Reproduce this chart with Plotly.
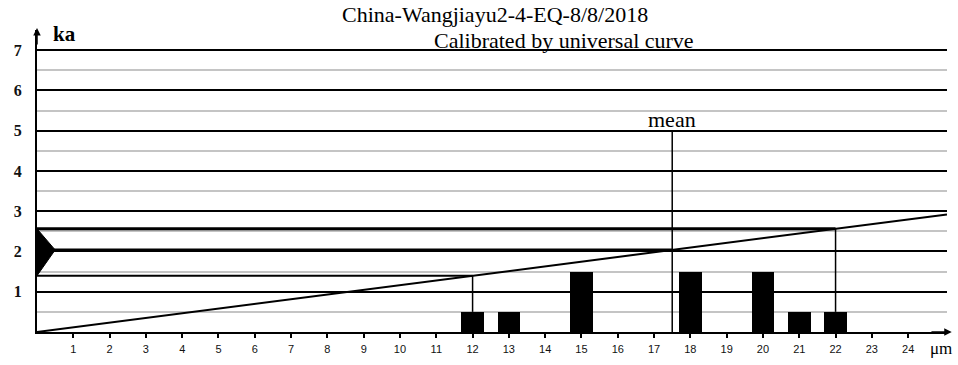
import numpy as np
import plotly.graph_objects as go

# Grain-size histogram (µm) and bar heights on the ka axis
grain_size = [12, 13, 15, 18, 20, 21, 22]
bar_height = [0.5, 0.5, 1.5, 1.5, 1.5, 0.5, 0.5]

# Universal calibration curve (grain size µm -> age ka)
calib_size = [0.0, 25.07]
calib_age = [0.0, 2.92]

# Grain sizes used for the age bounds and the mean
lower_size = 12
upper_size = 22
mean_size = 17.5
mean_marker_top = 5

x_ticks = list(range(1, 25))
y_ticks = list(range(1, 8))
y_minor = [0.5, 1.5, 2.5, 3.5, 4.5, 5.5, 6.5, 7.5]

title_line1 = "China-Wangjiayu2-4-EQ-8/8/2018"
title_line2 = "Calibrated by universal curve"

lower_age = float(np.interp(lower_size, calib_size, calib_age))
upper_age = float(np.interp(upper_size, calib_size, calib_age))
mean_age = float(np.interp(mean_size, calib_size, calib_age))

serif = "Liberation Serif, Times New Roman, serif"
sans = "Liberation Sans, Arial, sans-serif"

fig = go.Figure()

# histogram bars
fig.add_trace(go.Bar(x=grain_size, y=bar_height, width=0.62,
                     marker=dict(color="black", line=dict(width=0)),
                     hoverinfo="skip"))

# calibration line
fig.add_trace(go.Scatter(x=calib_size, y=calib_age, mode="lines",
                         line=dict(color="black", width=2), hoverinfo="skip"))

# age bounds drawn back to the axis
for sz, age, w in [(lower_size, lower_age, 2), (upper_size, upper_age, 3)]:
    fig.add_trace(go.Scatter(x=[0, sz], y=[age, age], mode="lines",
                             line=dict(color="black", width=w), hoverinfo="skip"))
fig.add_trace(go.Scatter(x=[0, mean_size], y=[mean_age, mean_age], mode="lines",
                         line=dict(color="black", width=3), hoverinfo="skip"))

# verticals from the bars up to the curve
for sz in [lower_size, upper_size]:
    h = bar_height[grain_size.index(sz)]
    age = float(np.interp(sz, calib_size, calib_age))
    fig.add_trace(go.Scatter(x=[sz, sz], y=[h, age], mode="lines",
                             line=dict(color="black", width=1.5), hoverinfo="skip"))

# mean marker
fig.add_trace(go.Scatter(x=[mean_size, mean_size], y=[0, mean_marker_top], mode="lines",
                         line=dict(color="black", width=1.5), hoverinfo="skip"))

# age-range triangle on the ka axis
fig.add_trace(go.Scatter(x=[0, 0.5, 0, 0], y=[upper_age, mean_age, lower_age, upper_age],
                         mode="lines", fill="toself", fillcolor="black",
                         line=dict(color="black", width=1), hoverinfo="skip"))

annotations = [
    dict(x=0.5033, y=1.05, xref="paper", yref="paper", text=title_line1, showarrow=False,
         xanchor="center", yanchor="middle",
         font=dict(family=serif, size=22, color="black")),
    dict(x=0.5791, y=0.964, xref="paper", yref="paper", text=title_line2, showarrow=False,
         xanchor="center", yanchor="middle",
         font=dict(family=serif, size=22, color="black")),
    dict(x=mean_size, y=5.27, xref="x", yref="y", text="mean", showarrow=False,
         xanchor="center", yanchor="middle",
         font=dict(family=serif, size=22, color="black")),
    dict(x=0.75, y=7.4, xref="x", yref="y", text="<b>ka</b>", showarrow=False,
         xanchor="center", yanchor="middle",
         font=dict(family=serif, size=21, color="black")),
    dict(x=0.979, y=-0.055, xref="paper", yref="paper", text="μm", showarrow=False,
         xanchor="left", yanchor="middle",
         font=dict(family=serif, size=17, color="black")),
    # axis arrowheads
    dict(x=25.2, y=0, ax=24.6, ay=0, xref="x", yref="y", axref="x", ayref="y",
         text="", showarrow=True, arrowhead=2, arrowsize=1, arrowwidth=1.5,
         arrowcolor="black"),
    dict(x=0, y=7.55, ax=0, ay=7.1, xref="x", yref="y", axref="x", ayref="y",
         text="", showarrow=True, arrowhead=2, arrowsize=1, arrowwidth=1.5,
         arrowcolor="black"),
]

fig.update_layout(
    width=958, height=365, autosize=False,
    margin=dict(l=37, r=11, t=30, b=33, pad=0),
    paper_bgcolor="white", plot_bgcolor="white",
    showlegend=False, bargap=0,
    annotations=annotations,
    xaxis=dict(range=[0, 25.07], tickmode="array", tickvals=x_ticks,
               showgrid=False, zeroline=False,
               showline=True, linecolor="black", linewidth=2,
               ticks="outside", ticklen=4, tickwidth=1.5, tickcolor="black",
               ticklabelstandoff=2,
               tickfont=dict(family=sans, size=11, color="#111")),
    yaxis=dict(range=[0, 7.5], tickmode="array", tickvals=y_ticks,
               showgrid=True, gridcolor="black", gridwidth=2,
               zeroline=False, showline=True, linecolor="black", linewidth=2,
               ticks="", ticklabelstandoff=10,
               tickfont=dict(family=serif, size=16, color="#111", weight="bold"),
               minor=dict(tickmode="array", tickvals=y_minor, showgrid=True,
                          gridcolor="#c4c4c4", gridwidth=2, ticks="")),
)

fig.write_html("out.html")
